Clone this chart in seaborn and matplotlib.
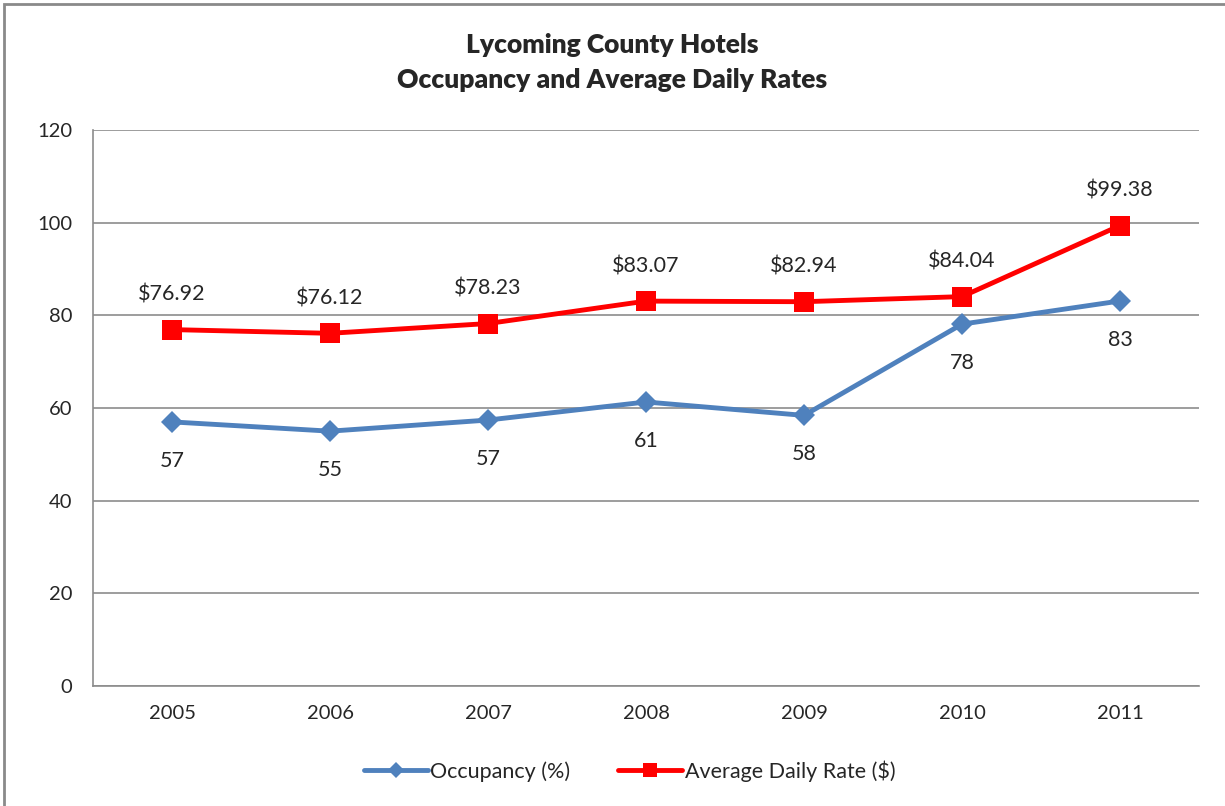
import seaborn as sns
import matplotlib.pyplot as plt
import matplotlib.patches as mpatches
import pandas as pd

years = ['2005', '2006', '2007', '2008', '2009', '2010', '2011']
occupancy = [57.0, 55.0, 57.4, 61.3, 58.4, 78.1, 83.1]
adr = [76.92, 76.12, 78.23, 83.07, 82.94, 84.04, 99.38]

df = pd.DataFrame({'Year': years, 'Occupancy (%)': occupancy,
                   'Average Daily Rate ($)': adr})

sns.set_style("white")
plt.rcParams['font.family'] = ['Lato', 'DejaVu Sans']

fig = plt.figure(figsize=(12.25, 8.06), dpi=100)
ax = fig.add_axes([93 / 1225, 1 - 686 / 806, (1199 - 93) / 1225, (686 - 130) / 806])

blue = '#4F81BD'
red = '#FF0000'
sns.lineplot(data=df, x='Year', y='Occupancy (%)', ax=ax, color=blue,
             linewidth=3.5, marker='D', markersize=11, markeredgewidth=0,
             label='Occupancy (%)', sort=False)
sns.lineplot(data=df, x='Year', y='Average Daily Rate ($)', ax=ax, color=red,
             linewidth=3.5, marker='s', markersize=14, markeredgewidth=0,
             label='Average Daily Rate ($)', sort=False)

for i, (o, r) in enumerate(zip(occupancy, adr)):
    ax.annotate(f'{o:.0f}', (i, o), xytext=(0, -28), textcoords='offset points',
                ha='center', va='center', fontsize=15.5)
    ax.annotate(f'${r:.2f}', (i, r), xytext=(0, 25), textcoords='offset points',
                ha='center', va='center', fontsize=15.5)

ax.set_xlim(-0.5, 6.5)
ax.set_ylim(0, 120)
ax.set_yticks(range(0, 121, 20))
ax.yaxis.grid(True, color='#8c8c8c', linewidth=1.2)
ax.set_axisbelow(True)
for s in ['top', 'right']:
    ax.spines[s].set_visible(False)
for s in ['left', 'bottom']:
    ax.spines[s].set_color('#8c8c8c')
    ax.spines[s].set_linewidth(1.2)
ax.set_xticks(range(len(years)))
ax.set_xticklabels(years)
ax.set_xticks([i - 0.5 for i in range(len(years) + 1)], minor=True)
ax.tick_params(axis='x', which='major', length=0, pad=14, labelsize=14.5)
ax.tick_params(axis='x', which='minor', length=6, color='#8c8c8c', width=1.2)
ax.tick_params(axis='y', length=7, color='#8c8c8c', width=1.2, pad=8, labelsize=14.5)
ax.set_xlabel('')
ax.set_ylabel('')

ax.legend(loc='center', bbox_to_anchor=(0.485, -0.153), ncol=2, frameon=False,
          fontsize=15.5, handlelength=3.0, columnspacing=2.2, handletextpad=0.1,
          markerscale=0.7)

fig.text(0.5, 1 - 45 / 806, 'Lycoming County Hotels', ha='center', va='center',
         fontsize=19, fontweight='heavy')
fig.text(0.5, 1 - 80 / 806, 'Occupancy and Average Daily Rates', ha='center',
         va='center', fontsize=19, fontweight='heavy')

fig.patches.append(mpatches.Rectangle((4 / 1225, -0.01), 1.02, 1 - 4 / 806 + 0.01,
                                      transform=fig.transFigure, fill=False,
                                      edgecolor='#8a8a8a', linewidth=2))

fig.savefig('out.png', dpi=100, facecolor='white')
